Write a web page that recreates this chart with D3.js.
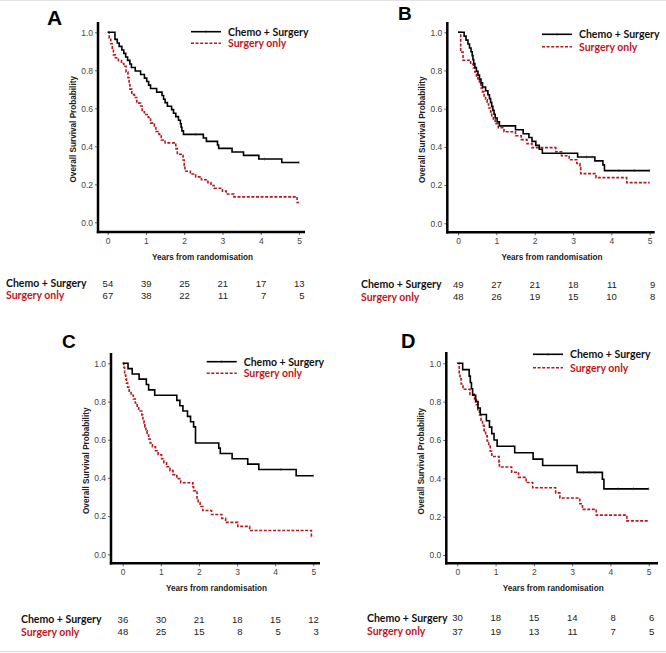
<!DOCTYPE html>
<html>
<head>
<meta charset="utf-8">
<script src="https://cdn.jsdelivr.net/npm/d3@7"></script>
<style>
  body { margin: 0; background: #fff; }
  svg { display: block; }
</style>
</head>
<body>
<div id="chart"></div>
<script>
// x ticks and y ticks shared by all panels
const years = [0, 1, 2, 3, 4, 5];
const survTicks = [0, 0.2, 0.4, 0.6, 0.8, 1.0];
const groups = ["Chemo + Surgery", "Surgery only"];

// Panel A  [years, survival]
const chemoA = [[0,1],[0.19,0.963],[0.25,0.944],[0.30,0.926],[0.37,0.907],[0.42,0.889],[0.47,0.870],[0.52,0.852],
  [0.58,0.833],[0.62,0.815],[0.72,0.796],[0.86,0.778],[0.96,0.759],[1.02,0.741],[1.07,0.722],[1.12,0.704],
  [1.28,0.685],[1.42,0.667],[1.46,0.648],[1.50,0.630],[1.56,0.611],[1.67,0.593],[1.72,0.574],[1.78,0.556],
  [1.85,0.537],[1.90,0.519],[1.92,0.500],[1.94,0.481],[1.98,0.463],[2.50,0.444],[2.58,0.426],[2.87,0.407],
  [2.90,0.389],[3.25,0.370],[3.55,0.352],[3.95,0.333],[4.55,0.315]];
const surgA = [[0,1],[0.04,0.970],[0.08,0.940],[0.12,0.910],[0.15,0.881],[0.20,0.866],[0.28,0.851],[0.36,0.836],
  [0.42,0.821],[0.48,0.791],[0.53,0.761],[0.56,0.731],[0.58,0.701],[0.63,0.672],[0.70,0.657],[0.76,0.627],
  [0.86,0.612],[0.90,0.582],[0.96,0.567],[1.06,0.552],[1.12,0.522],[1.22,0.507],[1.26,0.478],[1.34,0.463],
  [1.40,0.433],[1.50,0.418],[1.78,0.388],[1.82,0.358],[1.97,0.328],[2.00,0.299],[2.02,0.269],[2.16,0.254],
  [2.30,0.239],[2.45,0.224],[2.62,0.209],[2.70,0.194],[2.78,0.179],[3.00,0.164],[3.10,0.149],[3.30,0.134],
  [4.95,0.104]];
const censorChemoA = [2.3, 4.1, 5.0];
const riskChemoA = [54, 39, 25, 21, 17, 13];
const riskSurgA = [67, 38, 22, 11, 7, 5];

// Panel B
const chemoB = [[0,1],[0.16,0.980],[0.21,0.959],[0.26,0.939],[0.30,0.918],[0.34,0.898],[0.37,0.878],[0.39,0.857],
  [0.41,0.837],[0.44,0.816],[0.48,0.796],[0.52,0.776],[0.56,0.755],[0.60,0.735],[0.64,0.714],[0.72,0.694],
  [0.78,0.673],[0.82,0.653],[0.85,0.633],[0.88,0.612],[0.91,0.592],[0.94,0.571],[0.97,0.551],[1.02,0.531],
  [1.08,0.510],[1.50,0.490],[1.70,0.469],[1.85,0.449],[1.93,0.429],[2.03,0.408],[2.12,0.388],[2.20,0.367],
  [3.12,0.347],[3.57,0.327],[3.78,0.306],[3.82,0.276]];
const surgB = [[0,1],[0.07,0.896],[0.13,0.854],[0.33,0.833],[0.40,0.813],[0.44,0.792],[0.48,0.771],[0.52,0.750],
  [0.56,0.729],[0.60,0.708],[0.64,0.688],[0.68,0.667],[0.72,0.646],[0.76,0.625],[0.80,0.604],[0.85,0.583],
  [0.88,0.563],[0.92,0.542],[0.97,0.521],[1.05,0.500],[1.20,0.479],[1.50,0.458],[1.65,0.438],[1.80,0.417],
  [1.93,0.396],[2.55,0.375],[2.70,0.354],[2.90,0.333],[3.10,0.313],[3.18,0.292],[3.20,0.260],[3.60,0.239],
  [4.40,0.213]];
const censorChemoB = [3.35, 3.5, 4.2, 4.6, 5.0];
const riskChemoB = [49, 27, 21, 18, 11, 9];
const riskSurgB = [48, 26, 19, 15, 10, 8];

// Panel C
const chemoC = [[0,1],[0.14,0.972],[0.25,0.944],[0.43,0.917],[0.62,0.889],[0.68,0.861],[0.84,0.833],[1.42,0.806],
  [1.50,0.778],[1.58,0.750],[1.70,0.722],[1.78,0.694],[1.86,0.667],[1.91,0.583],[2.52,0.556],[2.56,0.528],
  [2.87,0.500],[3.28,0.472],[3.57,0.444],[4.55,0.411]];
const surgC = [[0,1],[0.03,0.979],[0.05,0.938],[0.08,0.917],[0.10,0.896],[0.13,0.875],[0.17,0.854],[0.22,0.833],
  [0.28,0.813],[0.33,0.792],[0.38,0.771],[0.42,0.750],[0.50,0.729],[0.53,0.708],[0.56,0.688],[0.58,0.667],
  [0.61,0.646],[0.64,0.625],[0.68,0.604],[0.72,0.583],[0.78,0.563],[0.86,0.542],[0.93,0.521],[1.02,0.500],
  [1.08,0.479],[1.15,0.458],[1.24,0.438],[1.32,0.417],[1.42,0.396],[1.52,0.375],[1.84,0.354],[1.86,0.333],
  [1.95,0.292],[1.98,0.271],[2.03,0.250],[2.10,0.229],[2.33,0.208],[2.60,0.188],[2.70,0.167],[3.02,0.146],
  [3.33,0.125],[4.95,0.094]];
const censorChemoC = [4.15, 5.0];
const riskChemoC = [36, 30, 21, 18, 15, 12];
const riskSurgC = [48, 25, 15, 8, 5, 3];

// Panel D
const chemoD = [[0,1],[0.14,0.967],[0.31,0.933],[0.34,0.900],[0.37,0.867],[0.40,0.833],[0.48,0.800],[0.54,0.767],
  [0.60,0.733],[0.76,0.700],[0.84,0.667],[0.90,0.633],[0.96,0.600],[1.04,0.567],[1.50,0.533],[1.98,0.500],
  [2.23,0.467],[3.13,0.431],[3.79,0.395],[3.83,0.345]];
const surgD = [[0,1],[0.05,0.946],[0.07,0.919],[0.10,0.892],[0.15,0.865],[0.33,0.838],[0.45,0.811],[0.50,0.784],
  [0.54,0.757],[0.58,0.730],[0.62,0.703],[0.66,0.676],[0.70,0.649],[0.74,0.622],[0.78,0.595],[0.82,0.568],
  [0.86,0.541],[0.90,0.514],[1.09,0.486],[1.10,0.459],[1.42,0.432],[1.60,0.405],[1.80,0.378],[1.97,0.351],
  [2.57,0.324],[2.68,0.297],[3.20,0.267],[3.27,0.238],[3.63,0.208],[4.43,0.178]];
const censorChemoD = [3.3, 3.45, 3.6, 4.2, 4.6, 5.0];
const riskChemoD = [30, 18, 15, 14, 8, 6];
const riskSurgD = [37, 19, 13, 11, 7, 5];

const red = "#b3191d";
const redText = "#c0161c";
const labelFont = "Lato, 'Liberation Sans', sans-serif";
const arial = "'Liberation Sans', Arial, sans-serif";

// where each panel sits on the page
const panels = [
  { letter: "A", chemo: chemoA, surg: surgA, censor: censorChemoA, riskC: riskChemoA, riskS: riskSurgA,
    ax: 98, top: 22, bot: 232, x0: 107.7, x1: 299, xEnd: 305, y0: 222.3, y1: 32.3,
    lx: 47, ly: 25, lsize: 21, legX: 191, legY: [31.7, 43.3], riskX: 6, riskY: [283, 295] },
  { letter: "B", chemo: chemoB, surg: surgB, censor: censorChemoB, riskC: riskChemoB, riskS: riskSurgB,
    ax: 447.3, top: 22, bot: 232.3, x0: 458, x1: 649.7, xEnd: 654.7, y0: 223.3, y1: 32.3,
    lx: 398, ly: 20, lsize: 19, legX: 542, legY: [34.3, 46.7], riskX: 361, riskY: [284, 296.7] },
  { letter: "C", chemo: chemoC, surg: surgC, censor: censorChemoC, riskC: riskChemoC, riskS: riskSurgC,
    ax: 111, top: 353, bot: 563.3, x0: 122.7, x1: 313.3, xEnd: 320, y0: 554.3, y1: 363.3,
    lx: 62, ly: 348, lsize: 19, legX: 206.7, legY: [361.7, 373.3], riskX: 21, riskY: [619, 631.7] },
  { letter: "D", chemo: chemoD, surg: surgD, censor: censorChemoD, riskC: riskChemoD, riskS: riskSurgD,
    ax: 446.3, top: 352, bot: 563.3, x0: 457.3, x1: 648.7, xEnd: 658, y0: 555, y1: 363.3,
    lx: 401, ly: 348, lsize: 20, legX: 533, legY: [354.3, 367.7], riskX: 367, riskY: [617.7, 631] }
];

const svg = d3.select("#chart").append("svg")
  .attr("width", 666)
  .attr("height", 653);

// faint page border lines
svg.append("line").attr("x1", 0).attr("x2", 666).attr("y1", 0.5).attr("y2", 0.5)
  .attr("stroke", "#e2e2e2").attr("stroke-width", 1);
svg.append("line").attr("x1", 0).attr("x2", 666).attr("y1", 651.5).attr("y2", 651.5)
  .attr("stroke", "#dcdcdc").attr("stroke-width", 1.2);

// value at time t on a step curve
const survAt = (curve, t) => {
  let s = curve[0][1];
  for (let i = 0; i < curve.length; i++) {
    if (curve[i][0] <= t) s = curve[i][1];
  }
  return s;
};

panels.forEach(p => {
  const x = d3.scaleLinear().domain([0, 5]).range([p.x0, p.x1]);
  const y = d3.scaleLinear().domain([0, 1]).range([p.y0, p.y1]);
  const g = svg.append("g");

  // panel letter
  g.append("text")
    .attr("x", p.lx).attr("y", p.ly)
    .text(p.letter)
    .style("font-family", arial)
    .style("font-weight", "bold")
    .style("font-size", p.lsize + "px")
    .style("fill", "#000");

  // y axis ticks
  const yAxis = g.append("g")
    .attr("transform", `translate(${p.ax},0)`)
    .call(d3.axisLeft(y).tickValues(survTicks).tickFormat(d3.format(".1f")).tickSize(3).tickPadding(2));
  yAxis.select(".domain").remove();
  yAxis.selectAll("line").attr("stroke", "#666");
  yAxis.selectAll("text").style("font-family", arial).style("font-size", "8.5px").style("fill", "#444");

  // x axis ticks
  const xAxis = g.append("g")
    .attr("transform", `translate(0,${p.bot})`)
    .call(d3.axisBottom(x).tickValues(years).tickFormat(d3.format("d")).tickSize(3).tickPadding(3));
  xAxis.select(".domain").remove();
  xAxis.selectAll("line").attr("stroke", "#666");
  xAxis.selectAll("text").style("font-family", arial).style("font-size", "8.5px").style("fill", "#444");

  // thick axis lines
  g.append("line")
    .attr("x1", p.ax).attr("x2", p.ax).attr("y1", p.top).attr("y2", p.bot + 1.2)
    .attr("stroke", "#000").attr("stroke-width", 2.5);
  g.append("line")
    .attr("x1", p.ax - 1.2).attr("x2", p.xEnd).attr("y1", p.bot).attr("y2", p.bot)
    .attr("stroke", "#000").attr("stroke-width", 2.5);

  // axis titles
  g.append("text")
    .attr("x", (p.ax + p.xEnd) / 2 + 1).attr("y", p.bot + 28)
    .attr("text-anchor", "middle")
    .text("Years from randomisation")
    .style("font-family", arial).style("font-weight", "bold")
    .style("font-size", "8.2px").style("fill", "#222");
  g.append("text")
    .attr("transform", `translate(${p.ax - 22},${(p.y0 + p.y1) / 2 + 2}) rotate(-90)`)
    .attr("text-anchor", "middle")
    .text("Overall Survival Probability")
    .style("font-family", arial).style("font-weight", "bold")
    .style("font-size", "8.2px").style("fill", "#222");

  // curves
  const line = d3.line()
    .x(d => x(d[0]))
    .y(d => y(d[1]))
    .curve(d3.curveStepAfter);

  const surgPts = p.surg.concat([[5, p.surg[p.surg.length - 1][1]]]);
  const chemoPts = p.chemo.concat([[5, p.chemo[p.chemo.length - 1][1]]]);

  g.append("path")
    .datum(surgPts)
    .attr("d", line)
    .attr("fill", "none")
    .attr("stroke", red)
    .attr("stroke-width", 1.6)
    .attr("stroke-dasharray", "3,1.6");

  g.append("path")
    .datum(chemoPts)
    .attr("d", line)
    .attr("fill", "none")
    .attr("stroke", "#000")
    .attr("stroke-width", 1.6);

  // censor marks, kept small
  g.selectAll(".censor")
    .data(p.censor)
    .enter()
    .append("line")
    .attr("class", "censor")
    .attr("x1", d => x(d)).attr("x2", d => x(d))
    .attr("y1", d => y(survAt(p.chemo, d)) - 1.4)
    .attr("y2", d => y(survAt(p.chemo, d)) + 1.4)
    .attr("stroke", "#333")
    .attr("stroke-width", 0.6);

  // legend
  g.append("line")
    .attr("x1", p.legX).attr("x2", p.legX + 30)
    .attr("y1", p.legY[0]).attr("y2", p.legY[0])
    .attr("stroke", "#000").attr("stroke-width", 1.6);
  g.append("line")
    .attr("x1", p.legX + 15).attr("x2", p.legX + 15)
    .attr("y1", p.legY[0] - 1.4).attr("y2", p.legY[0] + 1.4)
    .attr("stroke", "#333").attr("stroke-width", 0.6);
  g.append("line")
    .attr("x1", p.legX).attr("x2", p.legX + 30)
    .attr("y1", p.legY[1]).attr("y2", p.legY[1])
    .attr("stroke", red).attr("stroke-width", 1.6)
    .attr("stroke-dasharray", "3,1.6");
  g.selectAll(".leg-text")
    .data(groups)
    .enter()
    .append("text")
    .attr("class", "leg-text")
    .attr("x", p.legX + 37)
    .attr("y", (d, i) => p.legY[i] + 3.8)
    .text(d => d)
    .style("font-family", labelFont)
    .style("font-weight", "bold")
    .style("font-size", "10.5px")
    .style("fill", (d, i) => i === 0 ? "#111" : redText);

  // numbers at risk
  g.selectAll(".risk-label")
    .data(groups)
    .enter()
    .append("text")
    .attr("class", "risk-label")
    .attr("x", p.riskX)
    .attr("y", (d, i) => p.riskY[i] + 3.8)
    .text(d => d)
    .style("font-family", labelFont)
    .style("font-weight", "bold")
    .style("font-size", "10.5px")
    .style("fill", (d, i) => i === 0 ? "#111" : redText);

  [p.riskC, p.riskS].forEach((row, r) => {
    g.selectAll(".risk-num-" + r)
      .data(row)
      .enter()
      .append("text")
      .attr("class", "risk-num-" + r)
      .attr("x", (d, i) => x(years[i]) + 5.5)
      .attr("y", p.riskY[r] + 3.5)
      .attr("text-anchor", "end")
      .text(d => d)
      .style("font-family", arial)
      .style("font-size", "9.5px")
      .style("fill", "#222");
  });
});
</script>
</body>
</html>
